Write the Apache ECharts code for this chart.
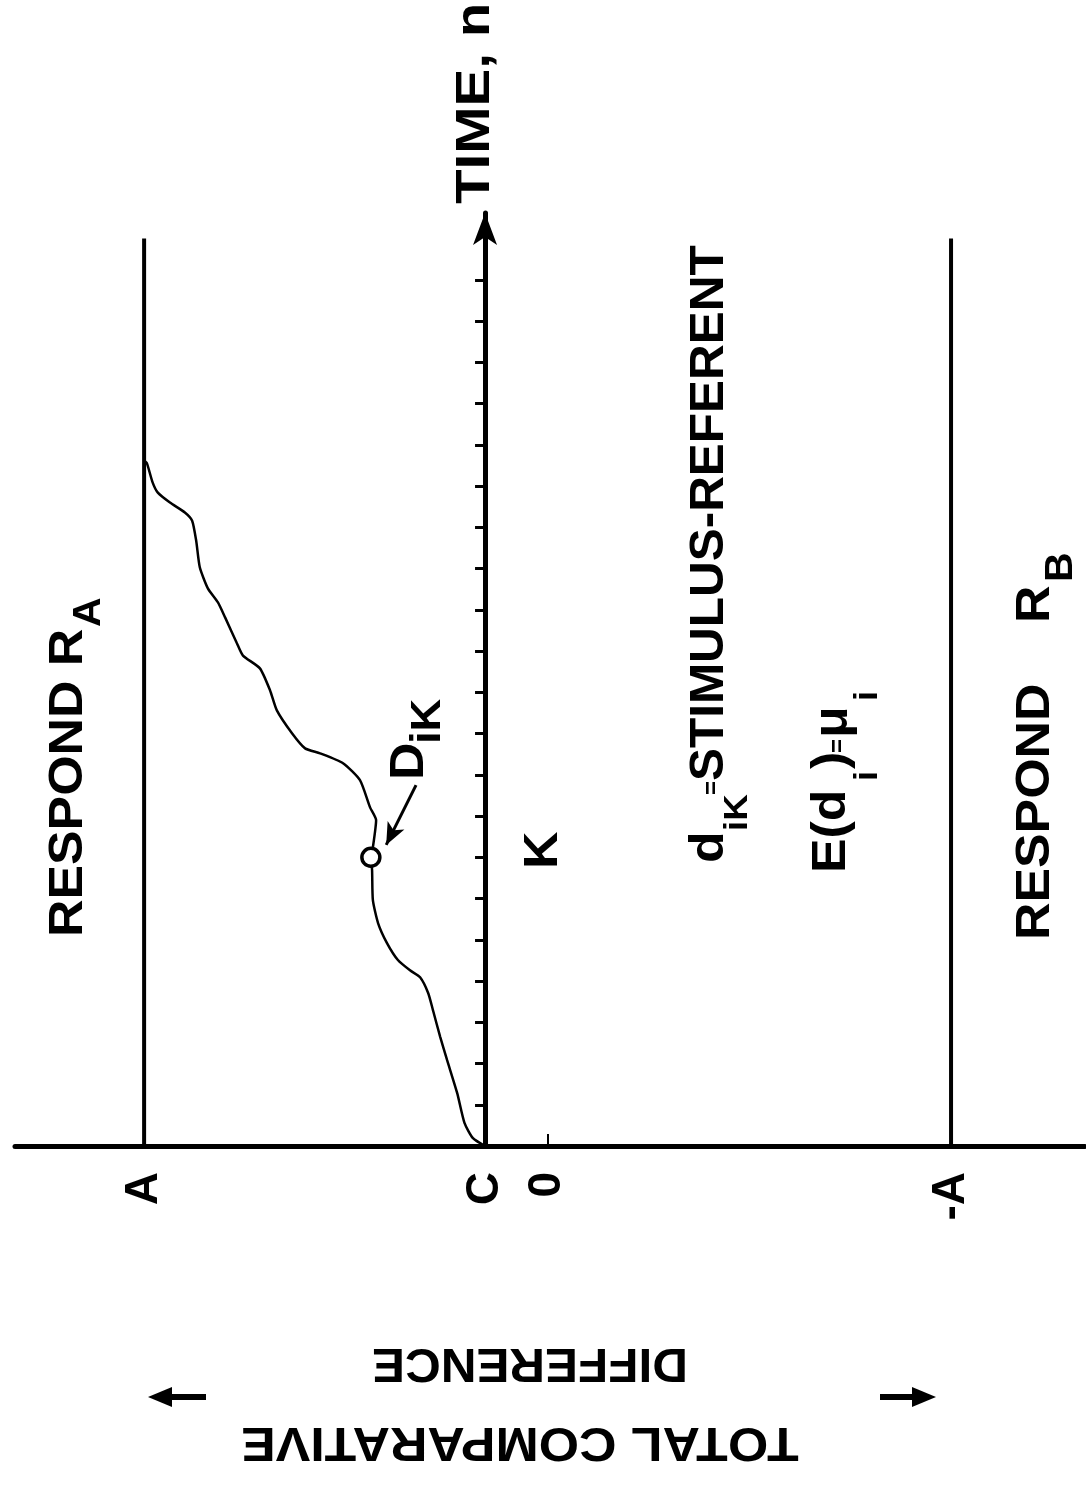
<!DOCTYPE html>
<html>
<head>
<meta charset="utf-8">
<script src="https://cdn.jsdelivr.net/npm/echarts@6/dist/echarts.min.js"></script>
<style>
html,body{margin:0;padding:0;background:#fff;}
#chart{width:1086px;height:1490px;}
</style>
</head>
<body>
<div id="chart"></div>
<script>
// ---- data ----
const boundaryA = 100;          // respond threshold A (and -A)
const startC = 15.5;            // starting point C
const boundaryTop = 22;         // time extent of the threshold lines
const timeMax = 22.62;
const valueMin = -133.2, valueMax = 132;
const timeTicks = [1,2,3,4,5,6,7,8,9,10,11,12,13,14,15,16,17,18,19,20,21];
const valueLabelValues = [100, 15.5, 0, -100];
const valueLabelTexts = ['A', 'C', '0', '-A'];
const timeSteps = [0, 0.19, 0.56, 1.28, 2.08, 2.64, 3.29, 3.71, 4.09, 4.26, 4.51, 4.92, 5.40, 5.96, 6.69, 7.0, 7.24, 7.90, 8.21, 8.87, 9.28, 9.52, 9.64, 10.0, 10.56, 11.05, 11.58, 11.89, 12.19, 12.81, 13.18, 13.52, 14.03, 14.68, 15.16, 15.36, 15.60, 15.84, 16.09, 16.55, 16.62];
const totalDiff = [15.5, 18.5, 20.6, 22.4, 24.9, 26.6, 28.4, 29.6, 31.6, 34.1, 37.1, 39.8, 42.0, 43.3, 43.5, 43.8, 43.3, 42.5, 44.0, 46.5, 50.7, 56.4, 60.1, 63.3, 67.1, 68.8, 71.3, 75.5, 77.0, 79.9, 81.7, 84.2, 86.2, 87.1, 88.1, 89.9, 93.6, 96.6, 97.9, 99.3, 100];
const kTime = 7, kValue = 43.8;  // D_iK point
const arrowFrom = [32.6, 8.75], arrowTo = [40.0, 7.3];

// ---- layout ----
const gridLeft = 15, gridRight = 1, gridBottom = 344;
const pxPerTime = 41.24;
const gridTop = Math.round(1490 - gridBottom - timeMax * pxPerTime);
const gridWidth = 1086 - gridLeft - gridRight;
const axisOffset = -gridWidth * (valueMax - startC) / (valueMax - valueMin);

const FAM = '"Liberation Sans", Arial, sans-serif';
const FONT = 'bold 48px ' + FAM;
const SUBFONT = n => 'bold ' + n + 'px ' + FAM;
const BLACK = '#000';

function vtext(txt, x, y, font, sx) {
  return {
    type: 'text', x: x, y: y, rotation: Math.PI / 2, scaleX: sx || 1.08,
    style: { text: txt, font: font || FONT, fill: BLACK, align: 'left', verticalAlign: 'middle',
             textAlign: 'left', textVerticalAlign: 'middle' }
  };
}
function ftext(txt, x, y, sx) {
  return {
    type: 'text', x: x, y: y, rotation: Math.PI, scaleX: sx || 1.08,
    style: { text: txt, font: FONT, fill: BLACK, align: 'center', verticalAlign: 'middle',
             textAlign: 'center', textVerticalAlign: 'middle' }
  };
}

const chart = echarts.init(document.getElementById('chart'), null, { renderer: 'canvas' });
chart.setOption({
  animation: false,
  backgroundColor: '#fff',
  grid: { left: gridLeft, right: gridRight, top: gridTop, bottom: gridBottom, containLabel: false },
  xAxis: {
    type: 'value', min: valueMin, max: valueMax, inverse: true,
    splitLine: { show: false },
    axisLine: { show: true, onZero: false, lineStyle: { color: BLACK, width: 5 } },
    axisTick: { show: true, inside: true, length: 12, customValues: [0], lineStyle: { color: BLACK, width: 2 } },
    axisLabel: {
      show: true, customValues: valueLabelValues, rotate: 90, margin: 26,
      color: BLACK, fontSize: 46, fontWeight: 'bold', fontFamily: FAM,
      formatter: v => { const i = valueLabelValues.indexOf(v); return i >= 0 ? valueLabelTexts[i] : ''; }
    }
  },
  yAxis: {
    type: 'value', min: 0, max: timeMax, position: 'left', offset: axisOffset,
    splitLine: { show: false },
    axisLine: { show: true, onZero: false, symbol: ['none', 'arrow'], symbolSize: [18, 32],
                lineStyle: { color: BLACK, width: 5 } },
    axisTick: { show: true, length: 10, customValues: timeTicks, lineStyle: { color: BLACK, width: 3 } },
    axisLabel: { show: false }
  },
  series: [
    {
      type: 'line', name: 'A', data: [[boundaryA, 0], [boundaryA, boundaryTop]],
      symbol: 'none', lineStyle: { color: BLACK, width: 4 }, z: 3
    },
    {
      type: 'line', name: '-A', data: [[-boundaryA, 0], [-boundaryA, boundaryTop]],
      symbol: 'none', lineStyle: { color: BLACK, width: 4 }, z: 3
    },
    {
      type: 'line', name: 'path', data: timeSteps.map((t, i) => [totalDiff[i], t]),
      symbol: 'none', smooth: 0.2, lineStyle: { color: BLACK, width: 2.5 }, z: 4
    },
    {
      type: 'scatter', name: 'DiK', data: [[kValue, kTime]],
      symbol: 'circle', symbolSize: 18,
      itemStyle: { color: '#fff', borderColor: BLACK, borderWidth: 3.5, opacity: 1 }, z: 6,
      markLine: {
        silent: true, symbol: ['none', 'arrow'], symbolSize: [14, 22],
        label: { show: false },
        lineStyle: { color: BLACK, width: 3, type: 'solid' },
        data: [[{ coord: arrowFrom }, { coord: arrowTo }]]
      }
    }
  ],
  graphic: [
    vtext('TIME, n', 476, 204, FONT, 1.18),
    vtext('RESPOND R', 69, 937),
    vtext('A', 90, 627, SUBFONT(38)),
    vtext('D', 410, 780),
    vtext('iK', 428, 744, SUBFONT(42)),
    vtext('K', 544, 869),
    vtext('d', 710, 863),
    vtext('iK', 738, 831, SUBFONT(34)),
    vtext('=', 712, 795, SUBFONT(24), 1),
    vtext('STIMULUS-REFERENT', 710, 781, FONT, 1.03),
    vtext('E(d', 832, 873),
    vtext('i', 868, 781, SUBFONT(34)),
    vtext(')', 832, 769),
    vtext('=', 838, 753, SUBFONT(24), 1),
    vtext('\u03bc', 834, 738),
    vtext('i', 868, 701, SUBFONT(34)),
    vtext('RESPOND', 1036, 940),
    vtext('R', 1036, 623),
    vtext('B', 1062, 582, SUBFONT(38)),
    ftext('DIFFERENCE', 530, 1362, 1.03),
    ftext('TOTAL COMPARATIVE', 520, 1441),
    { type: 'rect', shape: { x: 168, y: 1394, width: 38, height: 6 }, style: { fill: BLACK } },
    { type: 'polygon', shape: { points: [[148, 1397], [172, 1387], [172, 1407]] }, style: { fill: BLACK } },
    { type: 'rect', shape: { x: 880, y: 1394, width: 36, height: 6 }, style: { fill: BLACK } },
    { type: 'polygon', shape: { points: [[936, 1397], [912, 1387], [912, 1407]] }, style: { fill: BLACK } }
  ]
});
</script>
</body>
</html>
